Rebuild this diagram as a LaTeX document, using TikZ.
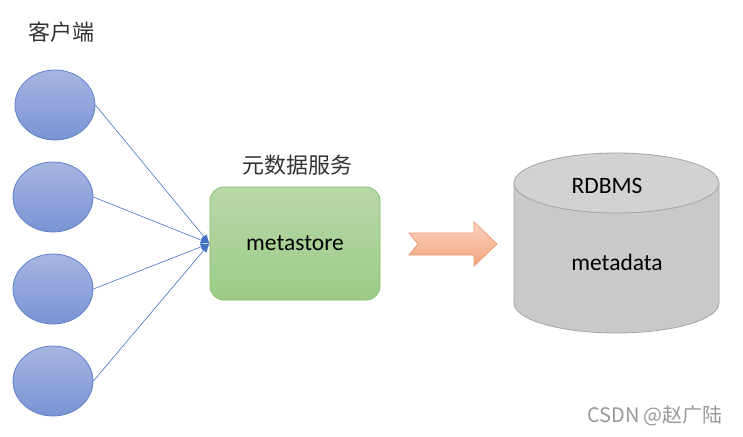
\documentclass[tikz,border=0pt]{standalone}
\usepackage{fontspec}
\setmainfont{Carlito}
\newfontfamily\cjk{Noto Sans CJK SC}
\usetikzlibrary{shapes.geometric,arrows.meta}
\definecolor{cliTop}{HTML}{A6B6E2}
\definecolor{cliBot}{HTML}{7A93D4}
\definecolor{cliLine}{HTML}{5F80C8}
\definecolor{linkBlue}{HTML}{4472C4}
\definecolor{msTop}{HTML}{B8D8AA}
\definecolor{msBot}{HTML}{9CCB86}
\definecolor{msLine}{HTML}{86BC6A}
\definecolor{arTop}{HTML}{FAD2BE}
\definecolor{arBot}{HTML}{F3A47E}
\definecolor{arLine}{HTML}{EE9A74}
\definecolor{dbFill}{HTML}{C9C9C9}
\definecolor{dbTop}{HTML}{D2D2D2}
\definecolor{dbLine}{HTML}{A5A5A5}
\tikzset{
  client/.style={ellipse, draw=cliLine, line width=0.8pt, top color=cliTop, bottom color=cliBot,
    minimum width=80pt, minimum height=70pt, inner sep=0pt},
  link/.style={draw=linkBlue, line width=0.6pt, -{Latex[length=9pt,width=7pt]}},
  msbox/.style={draw=msLine, line width=0.8pt, rounded corners=14pt, top color=msTop, bottom color=msBot,
    minimum width=170pt, minimum height=113pt, font=\fontsize{23.5pt}{26pt}\selectfont},
  cjklabel/.style={font=\cjk\fontsize{22pt}{26pt}\selectfont, text=black!80, inner sep=0pt},
  dbtext/.style={font=\fontsize{23.5pt}{26pt}\selectfont, inner sep=0pt}
}
\begin{document}
\begin{tikzpicture}[x=1pt,y=-1pt]
\useasboundingbox (0,0) rectangle (743,436);
\fill[white] (0,0) rectangle (743,436);

\node[cjklabel] (lblc) at (61,32) {客户端};

\node[client] (c1) at (55,105) {};
\node[client] (c2) at (53,197) {};
\node[client] (c3) at (53,289) {};
\node[client] (c4) at (53,381) {};

\node[cjklabel] (lblm) at (297,165) {元数据服务};
\node[msbox] (ms) at (295,243.5) {metastore};

\foreach \i in {1,...,4} \draw[link] (c\i.east) -- (ms.west);

% block arrow
\path[draw=arLine, line width=0.8pt, top color=arTop, bottom color=arBot]
  (409,233) -- (474,233) -- (474,222) -- (497,244) -- (474,266) -- (474,255) -- (409,255) -- (418,244) -- cycle;

% cylinder
\path[draw=dbLine, line width=0.8pt, fill=dbFill]
  (514,183) -- (514,303) arc[start angle=180, end angle=360, x radius=102.5, y radius=-30] -- (719,183);
\path[draw=dbLine, line width=0.8pt, fill=dbTop] (616.5,183) ellipse[x radius=102.5, y radius=30];
\node[dbtext] (rd) at (607,186) {RDBMS};
\node[dbtext] (md) at (617,262) {metadata};

\node[font=\cjk\fontsize{20pt}{24pt}\selectfont, text=black!40, inner sep=0pt] (wm) at (655,416) {CSDN @赵广陆};
\end{tikzpicture}
\end{document}
